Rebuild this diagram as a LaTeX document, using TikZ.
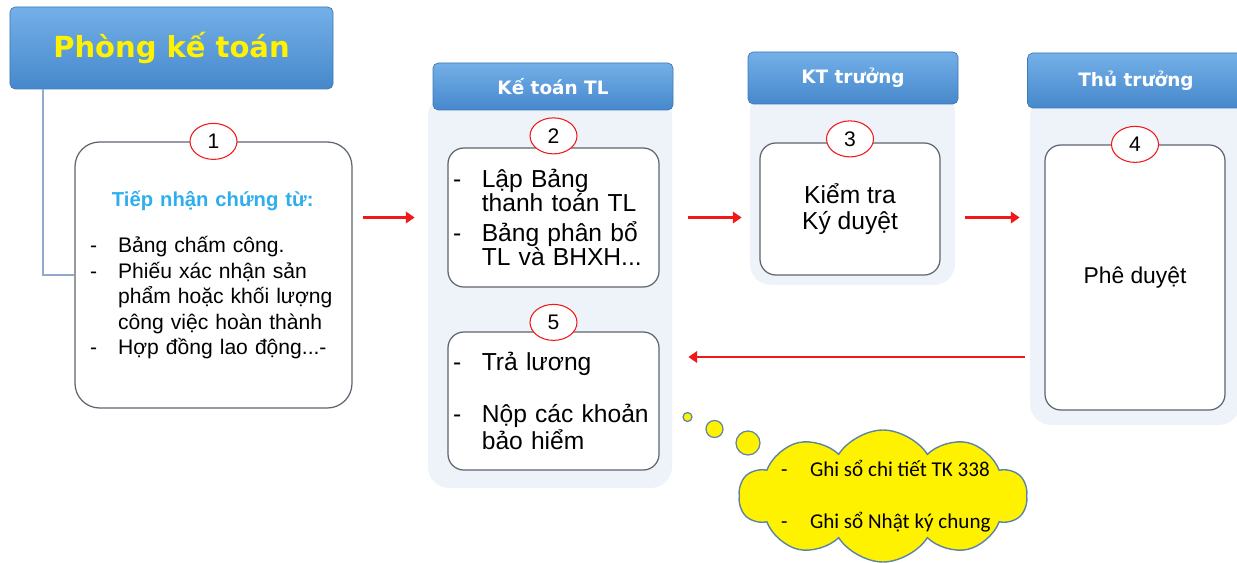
\documentclass[tikz,border=0pt]{standalone}
\usepackage{fontspec}
\setmainfont{Liberation Sans}
\newfontfamily\headfont{DejaVu Sans}
\newfontfamily\cloudfont{Carlito}
\usepackage{tikz}
\usetikzlibrary{arrows.meta,positioning,calc,shapes.geometric,shapes.symbols}
\usepackage{xcolor}
\definecolor{hdtop}{HTML}{74B0E8}
\definecolor{hdbot}{HTML}{4688CC}
\definecolor{hdline}{HTML}{3E78B4}
\definecolor{panelbg}{HTML}{EEF3FA}
\definecolor{boxline}{HTML}{5E656E}
\definecolor{flowred}{HTML}{F01818}
\definecolor{headblue}{HTML}{2FAEEE}
\definecolor{tieline}{HTML}{8FAACA}
\definecolor{cloudline}{HTML}{5C84A6}
\newcommand{\dsh}[1]{\makebox[#1][l]{-}}

\begin{document}
\begin{tikzpicture}[x=1cm, y=-1cm,
  header/.style={draw=hdline, rounded corners=3pt, top color=hdtop,
    bottom color=hdbot, text=white,
    font=\headfont\bfseries\fontsize{10.5}{12}\selectfont},
  panel/.style={fill=panelbg, rounded corners=12pt},
  stepbox/.style={draw=boxline, fill=white, rounded corners=9pt,
    line width=0.7pt},
  num/.style={ellipse, draw=flowred, fill=white, line width=0.6pt,
    minimum width=0.94cm, minimum height=0.72cm, inner sep=0pt,
    font=\fontsize{12}{12}\selectfont},
  flow/.style={-{Triangle[length=5pt,width=6.5pt]}, draw=flowred,
    line width=1.6pt},
  puff/.style={circle, draw=cloudline, fill=yellow, line width=0.7pt,
    inner sep=0pt}]

  \useasboundingbox (0,0) rectangle (24.74,11.26);

  \node[header, minimum width=6.46cm, minimum height=1.64cm, text=yellow,
    font=\headfont\bfseries\fontsize{16.5}{18}\selectfont] (hd) at (3.43,0.96)
    {Phòng kế toán};

  \node[stepbox, rounded corners=14pt, minimum width=5.54cm,
    minimum height=5.32cm, inner xsep=0.3cm, text width=4.94cm, align=left,
    font=\fontsize{12}{14.5}\selectfont] (b1) at (4.27,5.5)
    {{\color{headblue}\bfseries\fontsize{11.5}{13}\selectfont
      \hspace*{12.5pt}Tiếp nhận chứng từ:}\\[12pt]
     \dsh{16pt}Bảng chấm công.\\
     \dsh{16pt}Phiếu xác nhận sản\\
     \hspace*{16pt}phẩm hoặc khối lượng\\
     \hspace*{16pt}công việc hoàn thành\\
     \dsh{16pt}Hợp đồng lao động...-};
  \node[num] (n1) at (b1.north) {1};
  \draw[tieline, line width=1.2pt] ($(hd.south west)+(0.66,0)$) |- (b1.west);

  \node[panel, minimum width=4.88cm, minimum height=7.86cm] (p2) at (11.0,5.83) {};
  \node[header, minimum width=4.8cm, minimum height=0.94cm] (h2) at (11.06,1.73)
    {Kế toán TL};
  \node[stepbox, minimum width=4.22cm, minimum height=2.78cm, inner xsep=0.1cm,
    text width=4.02cm, align=left, font=\fontsize{14}{13.6}\selectfont]
    (b2) at (11.07,4.35)
    {\dsh{16.4pt}Lập Bảng\\
     \hspace*{16.4pt}thanh toán TL\\[3.4pt]
     \dsh{16.4pt}Bảng phân bổ\\
     \hspace*{16.4pt}TL và BHXH...};
  \node[num] (n2) at ([yshift=0.23cm]b2.north) {2};
  \node[stepbox, minimum width=4.22cm, minimum height=2.76cm, inner xsep=0.1cm,
    text width=4.02cm, align=left, font=\fontsize{14}{14.2}\selectfont]
    (b5) at (11.07,8.02)
    {\dsh{16.4pt}Trả lương\\[15.3pt]
     \dsh{16.4pt}Nộp các khoản\\
     \hspace*{16.4pt}bảo hiểm};
  \node[num] (n5) at ([yshift=0.18cm]b5.north) {5};

  \node[panel, minimum width=4.1cm, minimum height=3.9cm] (p3) at (17.05,3.75) {};
  \node[header, minimum width=4.2cm, minimum height=1.04cm] (h3) at (17.06,1.56)
    {KT trưởng};
  \node[stepbox, minimum width=3.6cm, minimum height=2.64cm, align=center,
    font=\fontsize{14}{14.7}\selectfont] (b3) at (17.0,4.18)
    {Kiểm tra\\Ký duyệt};
  \node[num] (n3) at ([yshift=0.07cm]b3.north) {3};

  \node[panel, minimum width=4.2cm, minimum height=6.6cm] (p4) at (22.7,5.2) {};
  \node[header, minimum width=4.34cm, minimum height=1.1cm] (h4) at (22.72,1.61)
    {Thủ trưởng};
  \node[stepbox, minimum width=3.6cm, minimum height=5.3cm,
    font=\fontsize{13}{14}\selectfont] (b4) at (22.7,5.55) {Phê duyệt};
  \node[num] (n4) at (b4.north) {4};

  \coordinate (ret) at (0,7.14);
  \draw[flow, shorten <=0.2cm, shorten >=0.26cm] (b1.east |- b2.center) -- (p2.west |- b2.center);
  \draw[flow, shorten <=0.32cm, shorten >=0.16cm] (p2.east |- b2.center) -- (p3.west |- b2.center);
  \draw[flow, shorten <=0.2cm, shorten >=0.2cm] (p3.east |- b2.center) -- (p4.west |- b2.center);
  \draw[flow, shorten <=0.1cm, shorten >=0.32cm] (p4.west |- ret) -- (p2.east |- ret);

  \node[puff, minimum size=0.18cm] (t1) at (13.75,8.34) {};
  \node[puff, minimum size=0.34cm] (t2) at (14.29,8.58) {};
  \node[puff, minimum size=0.48cm] (t3) at (14.96,8.86) {};
  \node[cloud, cloud puffs=10, cloud puff arc=115, aspect=2.2, draw=cloudline,
    fill=yellow, line width=0.8pt, minimum width=5.76cm, minimum height=2.64cm]
    (cl) at (17.66,9.92) {};
  \node[anchor=west, align=left, font=\cloudfont\fontsize{12}{29.5}\selectfont]
    (ct) at (15.5,9.92)
    {\dsh{16.4pt}Ghi sổ chi tiết TK 338\\
     \dsh{16.4pt}Ghi sổ Nhật ký chung};
\end{tikzpicture}
\end{document}
